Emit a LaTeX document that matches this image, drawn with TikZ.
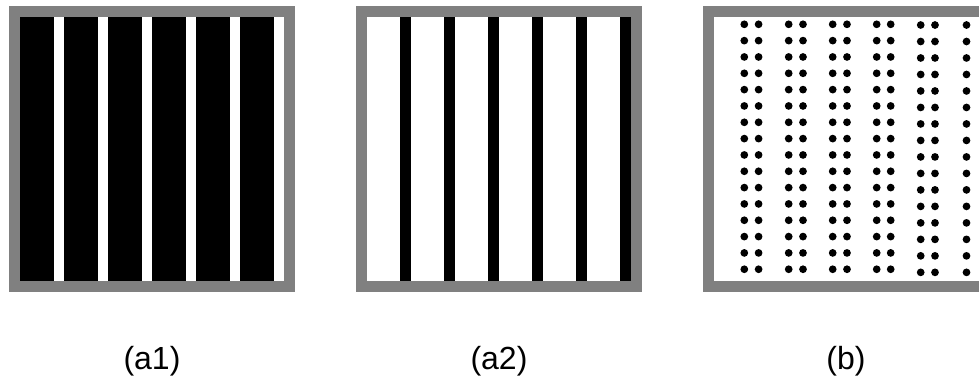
\documentclass[tikz,border=0pt]{standalone}
\usepackage{fontspec}
\setmainfont{Liberation Sans}
\begin{document}
\begin{tikzpicture}[x=0.75pt, y=-0.75pt, every node/.style={font=\fontsize{24}{28}\selectfont},
    frame/.style={fill=gray}, inner/.style={fill=white}, bar/.style={fill=black}, dot/.style={fill=black}]

    \useasboundingbox (0,0) rectangle (979,379);
    \clip (0,0) rectangle (979,379);

    % --- 1. (a1): wide black bars, thin white gaps ---
    \fill[frame] (9,6) rectangle (295,292);
    \fill[inner] (19.5,16.5) rectangle (284,281);
    \foreach \i in {0,...,5}
        \fill[bar] (19.5+44*\i,16.5) rectangle ++(34,264.5);

    % --- 2. (a2): thin black bars on white ---
    \fill[frame] (356,6) rectangle (642,292);
    \fill[inner] (367,16.5) rectangle (631,281);
    \foreach \i in {0,...,5}
        \fill[bar] (400+44*\i,16.5) rectangle ++(11,264.5);

    % --- 3. (b): columns of dots ---
    \fill[frame] (703,6) rectangle (989,292);
    \fill[inner] (714,16.5) rectangle (979,281);
    \foreach \cx/\cy/\dy in {744.3/24.3/16.33, 758.6/24.3/16.33, 788.7/24.3/16.33, 803/24.3/16.33,
                             832.7/24.3/16.33, 847/24.3/16.33, 876.7/24.3/16.33, 890.7/24.3/16.33,
                             920.7/25/16.49, 935/25/16.49, 966.5/25/16.49}
        \foreach \j in {0,...,15}
            \fill[dot] (\cx,\cy+\dy*\j) circle (2.9pt);

    % --- 4. labels ---
    \node[anchor=base] (lblaone) at (152,369) {(a1)};
    \node[anchor=base] (lblatwo) at (499,369) {(a2)};
    \node[anchor=base] (lblb) at (846,369) {(b)};

\end{tikzpicture}
\end{document}
